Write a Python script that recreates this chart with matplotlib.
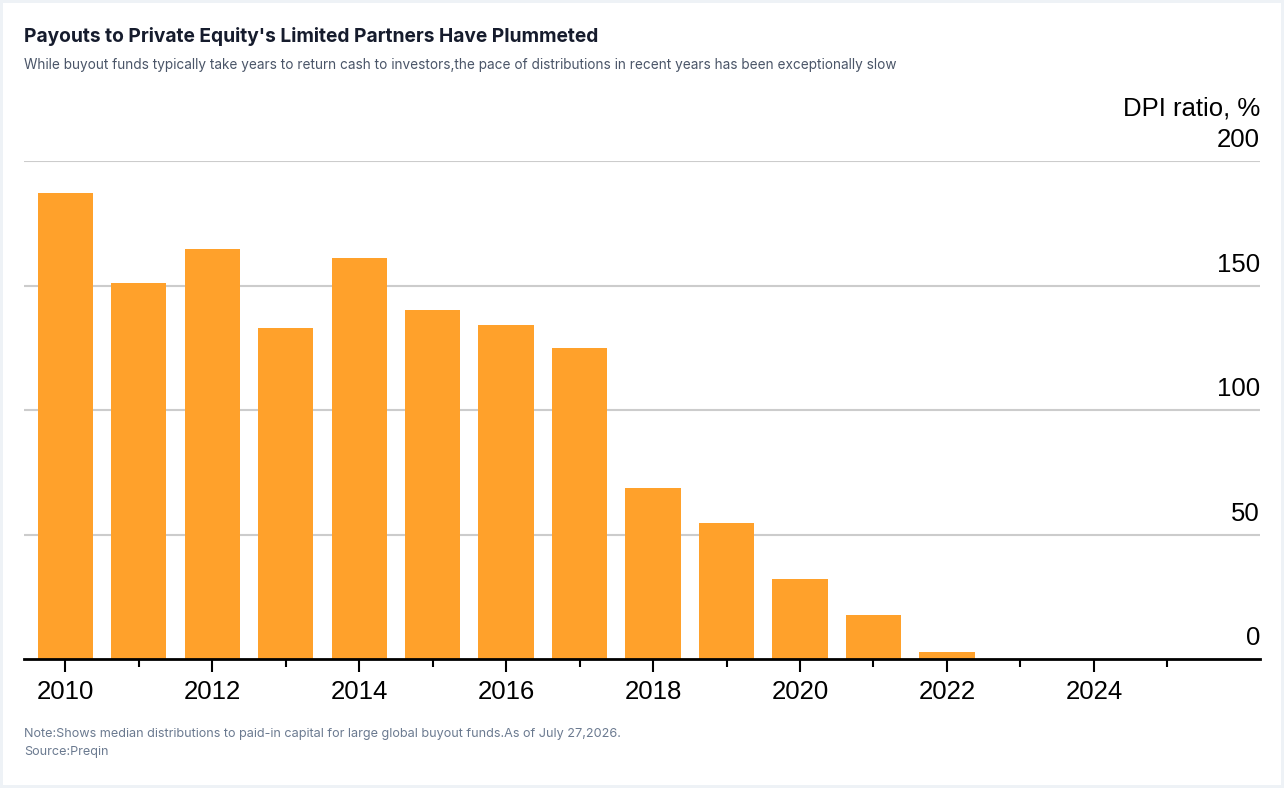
import matplotlib
matplotlib.use("Agg")
import matplotlib.pyplot as plt
from matplotlib.patches import Rectangle
from matplotlib.ticker import FixedLocator

years = [2010, 2011, 2012, 2013, 2014, 2015, 2016, 2017, 2018, 2019, 2020, 2021, 2022, 2023, 2024, 2025]
dpi_ratio = [187, 151, 164.5, 133, 161, 140, 134, 125, 68.5, 54.5, 32, 17.5, 3, 0, 0, 0]
y_ticks = [0, 50, 100, 150, 200]
major_years = [2010, 2012, 2014, 2016, 2018, 2020, 2022, 2024]
minor_years = [2011, 2013, 2015, 2017, 2019, 2021, 2023, 2025]

W, H = 1284, 788
fig = plt.figure(figsize=(W / 100, H / 100), dpi=100)
fig.patch.set_facecolor("#eef2f6")
fig.add_artist(Rectangle((3 / W, 3 / H), (W - 6) / W, (H - 6) / H, transform=fig.transFigure,
                         facecolor="white", edgecolor="none", zorder=-10))

ax_l, ax_r = 24, 1260
ax_top, ax_bot = 161, 659
ax = fig.add_axes([ax_l / W, 1 - ax_bot / H, (ax_r - ax_l) / W, (ax_bot - ax_top) / H])
ax.set_facecolor("none")

ax.bar(years, dpi_ratio, width=0.75, color="#FFA12B", zorder=3)
ax.set_xlim(2009.44, 2026.26)
ax.set_ylim(0, 200)

for s in ["top", "right", "left"]:
    ax.spines[s].set_visible(False)
ax.spines["bottom"].set_linewidth(2)
ax.spines["bottom"].set_color("black")
ax.spines["bottom"].set_zorder(5)

ax.set_yticks(y_ticks)
ax.yaxis.set_ticklabels([])
ax.tick_params(axis="y", length=0)
for yv in y_ticks:
    if yv > 0:
        ax.axhline(yv, color="#cccccc", lw=1.5, zorder=1)
    ax.annotate(str(yv), xy=(1.0, yv), xycoords=ax.get_yaxis_transform(), xytext=(0, 10),
                textcoords="offset points", ha="right", va="baseline",
                fontsize=18.5, family="Liberation Sans", color="black")

ax.annotate("DPI ratio, %", xy=(1.0, 1.0), xycoords="axes fraction", xytext=(0, 33),
            textcoords="offset points", ha="right", va="baseline", fontsize=18.5,
            family="Liberation Sans", color="black")

ax.xaxis.set_major_locator(FixedLocator(major_years))
ax.xaxis.set_minor_locator(FixedLocator(minor_years))
ax.set_xticklabels([str(y) for y in major_years], fontsize=18.5, family="Liberation Sans")
ax.tick_params(axis="x", which="major", length=9, width=1.5, color="black", pad=6)
ax.tick_params(axis="x", which="minor", length=6, width=1.5, color="black")

fig.text(24 / W, 1 - 36 / H, "Payouts to Private Equity's Limited Partners Have Plummeted",
         fontsize=13.8, fontweight="bold", family="Inter", color="#161c2d", va="center", ha="left")
fig.text(24 / W, 1 - 65 / H,
         "While buyout funds typically take years to return cash to investors,the pace of distributions in recent years has been exceptionally slow",
         fontsize=9.8, family="Inter", color="#4a5568", va="center", ha="left")
fig.text(24 / W, 1 - 734 / H,
         "Note:Shows median distributions to paid-in capital for large global buyout funds.As of July 27,2026.",
         fontsize=9.1, family="Inter", color="#6b7a90", va="center", ha="left")
fig.text(24 / W, 1 - 752 / H, "Source:Preqin",
         fontsize=9.1, family="Inter", color="#6b7a90", va="center", ha="left")

fig.savefig("out.png", dpi=100, facecolor=fig.get_facecolor())
